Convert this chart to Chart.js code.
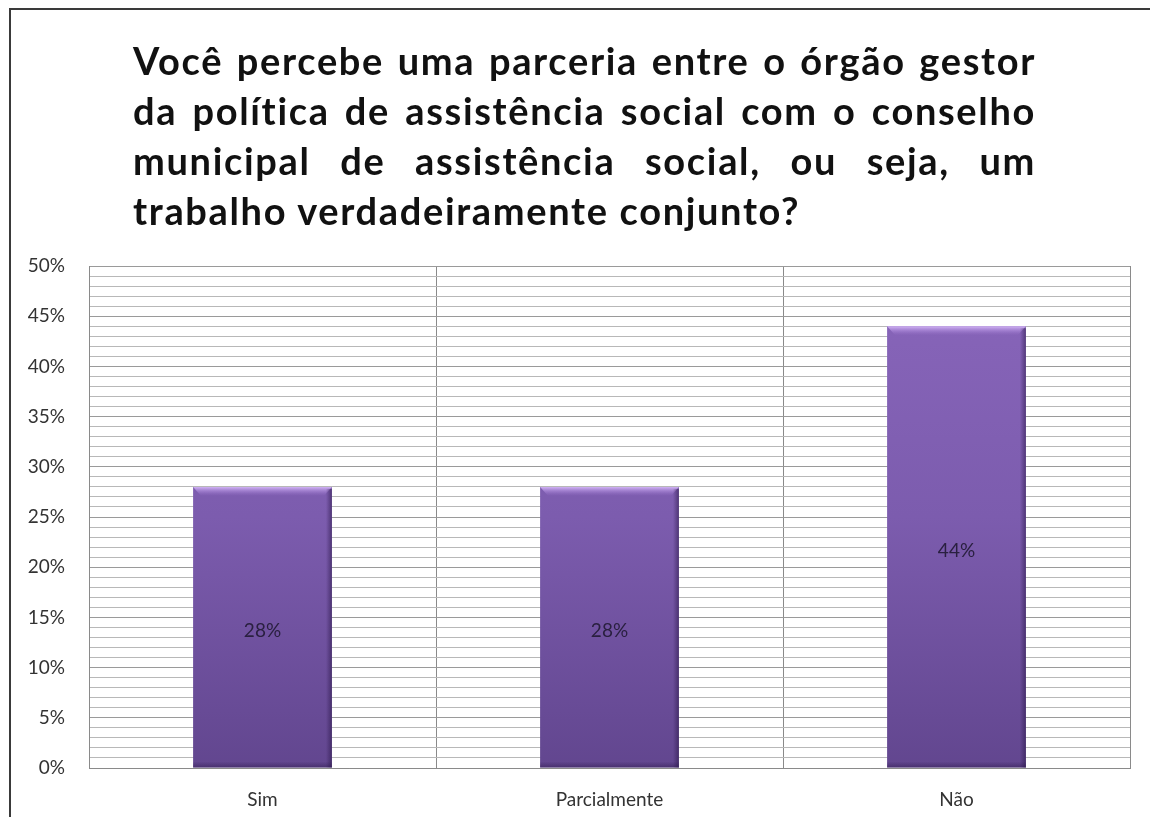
<!DOCTYPE html>
<html>
<head>
<meta charset="utf-8">
<script src="https://cdn.jsdelivr.net/npm/chart.js@4/dist/chart.umd.min.js"></script>
<style>
  html, body { margin: 0; padding: 0; background: #fff; }
  #wrap { position: relative; width: 1150px; height: 817px; overflow: hidden; }
  #frame { position: absolute; left: 9px; top: 8px; width: 1200px; height: 900px;
           border-top: 2px solid #3a3a3a; border-left: 2px solid #3a3a3a; box-sizing: border-box; }
  #title { position: absolute; left: 133px; top: 35px; width: 903px;
           font-family: Lato, "Open Sans", sans-serif; font-weight: bold; font-size: 38px;
           line-height: 50px; color: #111; }
  #title .j { display: block; text-align: justify; text-align-last: justify; }
  #title .l { display: inline-block; text-align: left; white-space: nowrap; }
  #chartBox { position: absolute; left: 0; top: 0; width: 1150px; height: 817px; }
</style>
</head>
<body>
<div id="wrap">
  <div id="chartBox"><canvas id="c"></canvas></div>
  <div id="frame"></div>
  <div id="title">
    <span class="j" id="t1"></span>
    <span class="j" id="t2"></span>
    <span class="j" id="t3"></span>
    <span class="l" id="t4"></span>
  </div>
</div>
<script>
const titleLines = [
  "Você percebe uma parceria entre o órgão gestor",
  "da política de assistência social com o conselho",
  "municipal de assistência social, ou seja, um",
  "trabalho verdadeiramente conjunto?"
];
const categories = ["Sim", "Parcialmente", "Não"];
const values = [28, 28, 44];
const yMin = 0, yMax = 50, yStep = 1, yLabelStep = 5;

["t1","t2","t3","t4"].forEach((id, i) => {
  document.getElementById(id).textContent = titleLines[i];
});
// widen letters slightly so the unjustified last line matches the reference width (~667px)
(function fitTitle() {
  const last = document.getElementById("t4");
  const w = last.getBoundingClientRect().width;
  const chars = titleLines[3].length;
  const ls = Math.max(0, (667 - w) / chars);
  document.getElementById("title").style.letterSpacing = ls.toFixed(2) + "px";
})();

const tickFont = { family: "Lato, 'Open Sans', sans-serif", size: 19 };

const barLabels = {
  id: "barLabels",
  afterDatasetsDraw(chart) {
    const ctx = chart.ctx;
    const meta = chart.getDatasetMeta(0);
    ctx.save();
    ctx.font = "19px Lato, 'Open Sans', sans-serif";
    ctx.fillStyle = "#2a2040";
    ctx.textAlign = "center";
    ctx.textBaseline = "middle";
    meta.data.forEach((bar, i) => {
      const p = bar.getProps(["x", "y", "base"], true);
      ctx.fillText(values[i] + "%", p.x, (p.y + p.base) / 2 + 4);
    });
    ctx.restore();
  }
};

const bevel = {
  id: "bevel",
  afterDatasetsDraw(chart) {
    const ctx = chart.ctx;
    const meta = chart.getDatasetMeta(0);
    ctx.save();
    meta.data.forEach((bar) => {
      const p = bar.getProps(["x", "y", "base", "width"], true);
      const l = p.x - p.width / 2, r = p.x + p.width / 2;
      const g = ctx.createLinearGradient(0, p.y, 0, p.y + 9);
      g.addColorStop(0, "rgba(215,185,250,0.95)");
      g.addColorStop(1, "rgba(160,120,210,0)");
      ctx.fillStyle = g;
      ctx.beginPath();
      ctx.moveTo(l, p.y); ctx.lineTo(r, p.y); ctx.lineTo(r - 8, p.y + 9); ctx.lineTo(l + 8, p.y + 9); ctx.closePath();
      ctx.fill();
      const g2 = ctx.createLinearGradient(r - 6, 0, r, 0);
      g2.addColorStop(0, "rgba(40,20,70,0)");
      g2.addColorStop(1, "rgba(40,20,70,0.55)");
      ctx.fillStyle = g2;
      ctx.fillRect(r - 6, p.y + 2, 6, p.base - p.y - 2);
      const g3 = ctx.createLinearGradient(0, p.base - 6, 0, p.base);
      g3.addColorStop(0, "rgba(40,20,70,0)");
      g3.addColorStop(1, "rgba(40,20,70,0.45)");
      ctx.fillStyle = g3;
      ctx.fillRect(l, p.base - 6, p.width, 6);
    });
    ctx.restore();
  }
};

new Chart(document.getElementById("c"), {
  type: "bar",
  data: {
    labels: categories,
    datasets: [{
      data: values,
      backgroundColor: (ctx) => {
        const ca = ctx.chart.chartArea;
        if (!ca) return "#7a5bb0";
        const g = ctx.chart.ctx.createLinearGradient(0, ca.top, 0, ca.bottom);
        g.addColorStop(0, "#8966bb");
        g.addColorStop(0.5, "#7c5cae");
        g.addColorStop(1, "#62468f");
        return g;
      },
      borderWidth: 0,
      barPercentage: 0.4,
      categoryPercentage: 1.0
    }]
  },
  options: {
    responsive: true,
    maintainAspectRatio: false,
    animation: false,
    layout: { padding: { left: 10, right: 20, top: 266, bottom: 0 } },
    plugins: { legend: { display: false }, tooltip: { enabled: false }, title: { display: false } },
    scales: {
      x: {
        offset: true,
        grid: { display: true, offset: true, color: "#8a8a8a", lineWidth: 1, drawTicks: false },
        border: { display: true, color: "#8a8a8a" },
        ticks: { color: "#333", font: tickFont, padding: 20 },
        afterFit(s) { s.height = 49; }
      },
      y: {
        min: yMin, max: yMax,
        grid: {
          drawTicks: false,
          color: (c) => (c.tick && c.tick.value % yLabelStep === 0) ? "#9a9a9a" : "#b8b8b8",
          lineWidth: 1
        },
        border: { display: true, color: "#8a8a8a" },
        ticks: {
          stepSize: yStep, autoSkip: false, padding: 24,
          color: "#333", font: tickFont,
          callback: (v) => (v % yLabelStep === 0 ? v + "%" : "")
        },
        afterFit(s) { s.width = 79; }
      }
    }
  },
  plugins: [barLabels, bevel]
});
</script>
</body>
</html>
